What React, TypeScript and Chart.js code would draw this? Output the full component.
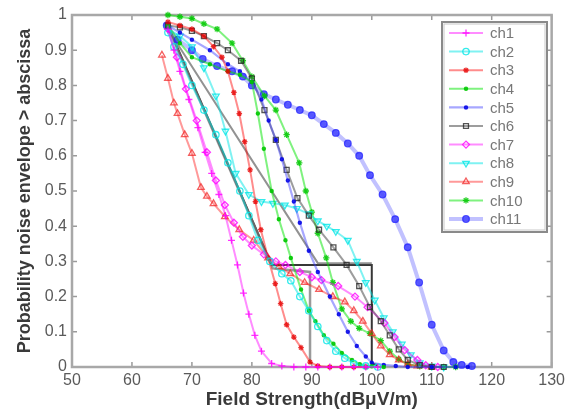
import React, { useEffect, useRef } from 'react';
import { Chart, registerables } from 'chart.js';
import { drawPoint } from 'chart.js/helpers';

Chart.register(...registerables);

const xTicks = [50, 60, 70, 80, 90, 100, 110, 120, 130];
const yTicks = [0, 0.1, 0.2, 0.3, 0.4, 0.5, 0.6, 0.7, 0.8, 0.9, 1];
const yTickLabels = ['0', '0.1', '0.2', '0.3', '0.4', '0.5', '0.6', '0.7', '0.8', '0.9', '1'];
const seriesNames = ['ch1', 'ch2', 'ch3', 'ch4', 'ch5', 'ch6', 'ch7', 'ch8', 'ch9', 'ch10', 'ch11'];
const xTitle = 'Field Strength(dBμV/m)';
const yTitle = 'Probability noise envelope > abscissa';

const ch1 = [[66,0.96],[67,0.9],[68,0.84],[69.5,0.76],[71,0.68],[72.2,0.61],[73.3,0.55],[74.5,0.49],[75.6,0.43],[76.6,0.36],[77.6,0.29],[78.6,0.21],[79.5,0.15],[80.5,0.09],[81.6,0.045],[83.3,0.01],[85,0.003],[87,0],[89,0],[91,0],[93,0],[95,0],[97,0],[99,0],[101,0]];
const ch2 = [[66,0.95],[67,0.91],[68.5,0.86],[70,0.8],[72,0.73],[74,0.66],[76,0.58],[78,0.5],[79.5,0.43],[81,0.36],[83,0.3],[85,0.265],[86.5,0.245],[88,0.2],[89.5,0.16],[91,0.115],[92.5,0.075],[94,0.045],[95.5,0.025],[97,0.01],[99,0.003],[101,0]];
const ch3 = [[66,0.98],[68,0.97],[70,0.96],[72,0.94],[73.6,0.91],[75,0.88],[76,0.84],[77,0.78],[77.9,0.72],[78.8,0.64],[79.7,0.56],[80.6,0.47],[81.5,0.39],[82.7,0.31],[83.9,0.237],[84.8,0.18],[85.8,0.12],[87,0.085],[88.2,0.055],[89.7,0.014],[91,0.003],[93,0],[95,0],[97,0],[99,0]];
const ch4 = [[66,0.97],[68,0.92],[70,0.88],[73,0.86],[76,0.84],[78,0.83],[80,0.81],[81,0.72],[82,0.62],[83.3,0.5],[84.5,0.42],[85.6,0.36],[86.5,0.31],[88.2,0.22],[89.5,0.16],[90.6,0.13],[92,0.09],[93.6,0.066],[95,0.04],[96.7,0.02],[98,0.008],[100,0.002],[102,0]];
const ch5 = [[66,0.97],[68,0.95],[70,0.93],[73,0.9],[76,0.86],[78,0.84],[80,0.81],[81.6,0.76],[82.8,0.7],[84,0.645],[85,0.59],[86,0.53],[87,0.47],[88,0.41],[89.5,0.33],[91,0.27],[93,0.2],[94.5,0.15],[96,0.1],[97.5,0.06],[99,0.03],[100,0.012],[102,0.006],[104,0.003],[106,0],[110,0],[114,0],[116,0]];
const ch6 = [[66,0.97],[68,0.965],[70,0.955],[72,0.94],[74.2,0.92],[76,0.9],[78.2,0.87],[80,0.82],[82.1,0.73],[84,0.645],[85.8,0.56],[87.6,0.48],[89.5,0.43],[91.2,0.39],[93.6,0.34],[95.8,0.29],[97.9,0.23],[99.7,0.17],[101.5,0.13],[103,0.09],[104.5,0.05],[106,0.02],[108,0.005],[110,0],[112,0]];
const ch7 = [[66,0.96],[67.5,0.88],[69,0.79],[70.8,0.7],[72.5,0.61],[74,0.53],[75.5,0.46],[77,0.41],[78.5,0.37],[80,0.345],[82,0.32],[84,0.3],[85.6,0.29],[88,0.27],[90,0.255],[91.6,0.247],[94.4,0.23],[97.2,0.2],[99.3,0.17],[102.1,0.125],[103.8,0.085],[105.5,0.048],[107.6,0.02],[109,0.005],[111,0]];
const ch8 = [[66,0.96],[68,0.94],[70,0.91],[72,0.85],[74,0.77],[75.6,0.67],[77.3,0.55],[79.5,0.49],[81.6,0.47],[83.5,0.465],[85.5,0.46],[87.5,0.45],[89.5,0.435],[91,0.415],[92.5,0.4],[94,0.385],[96,0.36],[97.5,0.3],[99,0.24],[100.5,0.19],[102,0.14],[103.5,0.1],[105,0.065],[106.5,0.035],[108,0.012],[110,0.003],[112,0]];
const ch9 = [[65,0.886],[66,0.82],[67,0.75],[67.6,0.72],[68.8,0.66],[70,0.607],[71.5,0.51],[72.5,0.485],[73.6,0.464],[75.5,0.427],[77.9,0.39],[80.3,0.36],[82.7,0.31],[84.5,0.285],[86.4,0.265],[88.8,0.24],[91.2,0.22],[93.5,0.2],[95.5,0.185],[97,0.16],[98.5,0.13],[100,0.095],[101.5,0.06],[103,0.035],[104.5,0.02],[106,0.008],[107.6,0.003],[110,0]];
const ch10 = [[66,1.0],[68,0.995],[70,0.99],[72,0.975],[74.2,0.96],[76.7,0.92],[78.5,0.87],[80,0.825],[82.1,0.77],[84,0.73],[85.8,0.66],[87.9,0.58],[89,0.5],[90,0.44],[91,0.38],[92.4,0.31],[93.5,0.24],[95,0.165],[96.5,0.13],[97.9,0.11],[99.7,0.095],[101.5,0.075],[103,0.045],[104.5,0.022],[106,0.008],[108,0.002],[110,0],[112,0],[114,0]];
const ch11 = [[65.8,0.97],[67.6,0.93],[70,0.9],[71.8,0.875],[74.2,0.855],[76.7,0.84],[78.5,0.825],[80,0.8],[82,0.775],[84,0.76],[86,0.745],[88,0.73],[90,0.715],[92,0.69],[94,0.665],[96,0.635],[97.9,0.6],[99.7,0.545],[101.8,0.49],[103.9,0.42],[106,0.34],[107.9,0.24],[110,0.12],[112,0.047],[113.6,0.014],[115,0.006],[116.7,0.003]];
const blackStep = [[66,0.97],[83.3,0.29],[100,0.29],[100,0.01],[101,0.005]];
const grayStep = [[66,0.965],[83.5,0.28],[89.7,0.27],[89.7,0.01]];
const grayDiag = [[66,0.96],[91,0.295],[100,0.295]];

const seriesData = [ch1, ch2, ch3, ch4, ch5, ch6, ch7, ch8, ch9, ch10, ch11];

const styles = [
  { line: 'rgba(255,0,255,0.45)', pt: 'rgba(255,0,255,0.8)', fill: 'rgba(255,0,255,0.8)', ps: 'cross', r: 3.5, rot: 0, w: 2 },
  { line: 'rgba(0,230,230,0.5)', pt: 'rgba(0,230,230,0.8)', fill: 'rgba(255,255,255,0)', ps: 'circle', r: 3.2, rot: 0, w: 2 },
  { line: 'rgba(255,0,0,0.45)', pt: 'rgba(230,0,0,0.8)', fill: 'rgba(230,0,0,0.8)', ps: 'star', r: 2.8, rot: 0, w: 2 },
  { line: 'rgba(0,230,0,0.5)', pt: 'rgba(0,200,0,0.85)', fill: 'rgba(0,200,0,0.85)', ps: 'circle', r: 1.6, rot: 0, w: 2 },
  { line: 'rgba(60,60,255,0.45)', pt: 'rgba(0,0,230,0.8)', fill: 'rgba(0,0,230,0.8)', ps: 'circle', r: 1.6, rot: 0, w: 2.2 },
  { line: 'rgba(60,60,60,0.5)', pt: 'rgba(40,40,40,0.8)', fill: 'rgba(255,255,255,0)', ps: 'rect', r: 3.5, rot: 0, w: 2 },
  { line: 'rgba(255,0,255,0.45)', pt: 'rgba(255,0,255,0.8)', fill: 'rgba(255,255,255,0)', ps: 'rectRot', r: 3.5, rot: 0, w: 2 },
  { line: 'rgba(0,230,230,0.5)', pt: 'rgba(0,230,230,0.8)', fill: 'rgba(255,255,255,0)', ps: 'triangle', r: 3.8, rot: 180, w: 2 },
  { line: 'rgba(255,0,0,0.4)', pt: 'rgba(240,40,40,0.75)', fill: 'rgba(255,255,255,0)', ps: 'triangle', r: 3.8, rot: 0, w: 2 },
  { line: 'rgba(0,230,0,0.5)', pt: 'rgba(0,200,0,0.85)', fill: 'rgba(0,200,0,0.85)', ps: 'star', r: 3.2, rot: 0, w: 2 },
  { line: 'rgba(100,100,255,0.4)', pt: 'rgba(40,40,255,0.8)', fill: 'rgba(40,40,255,0.7)', ps: 'circle', r: 3.3, rot: 0, w: 4 },
];

const toXY = (arr: number[][]) => arr.map(([x, y]) => ({ x, y }));

const frame = {
  id: 'frame',
  beforeDatasetsDraw(chart: any) {
    const { ctx, chartArea: a, scales } = chart;
    ctx.save();
    ctx.strokeStyle = '#9a9a9a';
    ctx.lineWidth = 1.5;
    ctx.beginPath();
    for (const v of xTicks) {
      const px = scales.x.getPixelForValue(v);
      ctx.moveTo(px, a.bottom); ctx.lineTo(px, a.bottom - 5);
      ctx.moveTo(px, a.top); ctx.lineTo(px, a.top + 5);
    }
    for (const v of yTicks) {
      const py = scales.y.getPixelForValue(v);
      ctx.moveTo(a.left, py); ctx.lineTo(a.left + 5, py);
      ctx.moveTo(a.right, py); ctx.lineTo(a.right - 5, py);
    }
    ctx.stroke();
    ctx.lineWidth = 2.5;
    ctx.strokeStyle = '#a8a8a8';
    ctx.strokeRect(a.left, a.top, a.right - a.left, a.bottom - a.top);
    ctx.restore();
  },
};

const legendBox = {
  id: 'legendBox',
  afterDraw(chart: any) {
    const { ctx } = chart;
    const bx = 442, by = 22, bw = 105, bh = 210;
    ctx.save();
    ctx.fillStyle = '#ffffff';
    ctx.fillRect(bx, by, bw, bh);
    ctx.strokeStyle = '#8a8a8a';
    ctx.lineWidth = 2;
    ctx.strokeRect(bx, by, bw, bh);
    ctx.strokeStyle = '#c8c8c8';
    ctx.lineWidth = 1;
    ctx.strokeRect(bx + 2, by + 2, bw - 4, bh - 4);
    chart.data.datasets.forEach((ds: any, i: number) => {
      if (!ds.label) return;
      const cy = 33 + i * 18.6;
      ctx.strokeStyle = ds.borderColor;
      ctx.lineWidth = ds.borderWidth;
      ctx.beginPath();
      ctx.moveTo(449, cy); ctx.lineTo(483, cy);
      ctx.stroke();
      ctx.strokeStyle = ds.pointBorderColor;
      ctx.fillStyle = ds.pointBackgroundColor;
      ctx.lineWidth = ds.pointBorderWidth;
      drawPoint(ctx, { pointStyle: ds.pointStyle, rotation: ds.pointRotation, radius: ds.pointRadius, borderWidth: ds.pointBorderWidth }, 466, cy);
      ctx.fillStyle = '#777';
      ctx.font = '15px "Liberation Sans", Arial, sans-serif';
      ctx.textBaseline = 'middle';
      ctx.textAlign = 'left';
      ctx.fillText(ds.label, 490, cy + 1);
    });
    ctx.restore();
  },
};

export default function App() {
  const ref = useRef<HTMLCanvasElement | null>(null);
  useEffect(() => {
    if (!ref.current) return;
    const extras: any[] = [
      { label: '', data: toXY(grayDiag), borderColor: 'rgba(110,110,110,0.75)', borderWidth: 2, pointRadius: 0, pointBorderColor: 'transparent', pointBackgroundColor: 'transparent', pointBorderWidth: 0, pointStyle: 'circle', pointRotation: 0 },
      { label: '', data: toXY(grayStep), borderColor: 'rgba(120,120,120,0.75)', borderWidth: 2.5, pointRadius: 0, pointBorderColor: 'transparent', pointBackgroundColor: 'transparent', pointBorderWidth: 0, pointStyle: 'circle', pointRotation: 0 },
      { label: '', data: toXY(blackStep), borderColor: 'rgba(20,20,20,0.85)', borderWidth: 2, pointRadius: 0, pointBorderColor: 'transparent', pointBackgroundColor: 'transparent', pointBorderWidth: 0, pointStyle: 'circle', pointRotation: 0 },
    ];
    const named = seriesData.map((d, i) => ({
      label: seriesNames[i],
      data: toXY(d),
      borderColor: styles[i].line,
      borderWidth: styles[i].w,
      pointStyle: styles[i].ps,
      pointRadius: styles[i].r,
      pointRotation: styles[i].rot,
      pointBorderColor: styles[i].pt,
      pointBackgroundColor: styles[i].fill,
      pointBorderWidth: 1.3,
    }));
    const chart = new Chart(ref.current, {
      type: 'line',
      data: { datasets: [...named, ...extras] },
      plugins: [frame, legendBox],
      options: {
        animation: false,
        responsive: false,
        devicePixelRatio: 1,
        layout: { padding: { left: 0, right: 14, top: 15, bottom: 0 } },
        elements: { line: { tension: 0 } },
        datasets: { line: { clip: false } as any },
        plugins: { legend: { display: false }, tooltip: { enabled: false } },
        scales: {
          x: {
            type: 'linear', min: 50, max: 130,
            afterBuildTicks: (s: any) => { s.ticks = xTicks.map((v) => ({ value: v })); },
            ticks: { color: '#5a5a5a', font: { size: 16, family: '"Liberation Sans", Arial, sans-serif' }, padding: 4, maxRotation: 0, callback: (v: any) => String(v) },
            grid: { display: false, drawTicks: false },
            border: { display: false },
            title: { display: true, text: xTitle, color: '#3a3a3a', font: { size: 19, weight: 'bold', family: '"Liberation Sans", Arial, sans-serif' }, padding: { top: 0, bottom: 1 } },
            afterFit: (s: any) => { s.height = 45; },
          },
          y: {
            type: 'linear', min: 0, max: 1,
            afterBuildTicks: (s: any) => { s.ticks = yTicks.map((v) => ({ value: v })); },
            ticks: {
              color: '#5a5a5a', font: { size: 16, family: '"Liberation Sans", Arial, sans-serif' }, padding: 5,
              callback: (v: any) => { const k = yTicks.findIndex((t) => Math.abs(t - v) < 1e-9); return k >= 0 ? yTickLabels[k] : ''; },
            },
            grid: { display: false, drawTicks: false },
            border: { display: false },
            title: { display: true, text: yTitle, color: '#3a3a3a', font: { size: 18, weight: 'bold', family: '"Liberation Sans", Arial, sans-serif' }, padding: { top: 14, bottom: 0 } },
            afterFit: (s: any) => { s.width = 72; },
          },
        },
      } as any,
    });
    return () => chart.destroy();
  }, []);
  return (
    <div style={{ position: 'absolute', left: 0, top: 0, width: 569, height: 412, background: '#fff' }}>
      <canvas ref={ref} width={569} height={412} style={{ display: 'block' }} />
    </div>
  );
}
